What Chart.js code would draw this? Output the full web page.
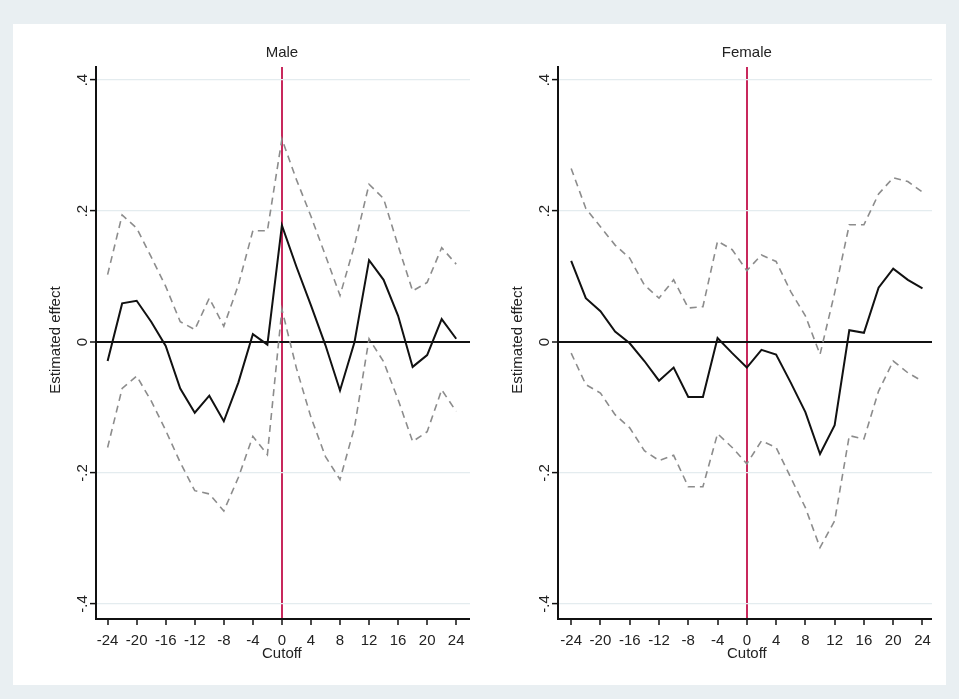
<!DOCTYPE html>
<html>
<head>
<meta charset="utf-8">
<script src="https://cdn.jsdelivr.net/npm/chart.js@4.4.1/dist/chart.umd.min.js"></script>
<style>
  body { margin: 0; background: #e9eff2; width: 959px; height: 699px; overflow: hidden; }
  #frame { position: absolute; left: 13px; top: 24px; width: 933px; height: 661px; background: #fff; }
  .box { position: absolute; top: 24px; height: 661px; }
</style>
</head>
<body>
<div id="frame"></div>
<div class="box" style="left:13px;width:470px"><canvas id="maleChart"></canvas></div>
<div class="box" style="left:483px;width:463px"><canvas id="femaleChart"></canvas></div>
<script>
const cutoffs = [-24, -22, -20, -18, -16, -14, -12, -10, -8, -6, -4, -2, 0, 2, 4, 6, 8, 10, 12, 14, 16, 18, 20, 22, 24];

const maleEst = [-0.029, 0.059, 0.063, 0.031, -0.006, -0.071, -0.108, -0.082, -0.121, -0.062, 0.012, -0.004, 0.178, 0.115, 0.056, -0.005, -0.074, 0.0, 0.125, 0.095, 0.04, -0.038, -0.02, 0.035, 0.005];
const maleUpper = [0.103, 0.194, 0.174, 0.13, 0.085, 0.031, 0.019, 0.067, 0.024, 0.087, 0.17, 0.17, 0.31, 0.248, 0.192, 0.132, 0.071, 0.148, 0.241, 0.219, 0.147, 0.078, 0.091, 0.144, 0.119];
const maleLower = [-0.161, -0.071, -0.052, -0.09, -0.135, -0.184, -0.227, -0.232, -0.258, -0.207, -0.144, -0.172, 0.05, -0.04, -0.115, -0.175, -0.21, -0.13, 0.005, -0.03, -0.088, -0.152, -0.137, -0.073, -0.106];

const femaleEst = [0.124, 0.067, 0.047, 0.016, -0.002, -0.029, -0.059, -0.039, -0.084, -0.084, 0.006, -0.017, -0.039, -0.012, -0.019, -0.062, -0.107, -0.171, -0.127, 0.018, 0.014, 0.083, 0.112, 0.095, 0.082];
const femaleUpper = [0.265, 0.204, 0.176, 0.148, 0.128, 0.087, 0.067, 0.095, 0.052, 0.054, 0.154, 0.141, 0.109, 0.133, 0.123, 0.077, 0.04, -0.019, 0.075, 0.179, 0.179, 0.226, 0.251, 0.245, 0.229];
const femaleLower = [-0.017, -0.065, -0.078, -0.111, -0.131, -0.166, -0.181, -0.173, -0.221, -0.221, -0.14, -0.161, -0.186, -0.151, -0.161, -0.207, -0.253, -0.314, -0.273, -0.143, -0.148, -0.075, -0.029, -0.047, -0.06];

const yTicks = [-0.4, -0.2, 0, 0.2, 0.4];
const yTickLabels = ['-.4', '-.2', '0', '.2', '.4'];
const xTicks = [-24, -20, -16, -12, -8, -4, 0, 4, 8, 12, 16, 20, 24];

const FONT = '"Liberation Sans", Arial, sans-serif';

function pairs(ys) {
  return cutoffs.map((c, i) => ({ x: c, y: ys[i] }));
}

// draws the panel title, rotated y labels and the axis titles
const textPlugin = {
  id: 'stataText',
  afterDraw(chart, args, opts) {
    const ctx = chart.ctx;
    const area = chart.chartArea;
    const y = chart.scales.y;
    const xMid = chart.scales.x.getPixelForValue(0);
    ctx.save();
    ctx.fillStyle = '#222';
    ctx.font = '15px ' + FONT;
    ctx.textAlign = 'center';
    ctx.textBaseline = 'middle';
    ctx.fillText(opts.title, xMid, 29);
    ctx.fillText('Cutoff', xMid, area.bottom + 35);

    yTicks.forEach((v, i) => {
      ctx.save();
      ctx.translate(area.left - 9, y.getPixelForValue(v));
      ctx.rotate(-Math.PI / 2);
      ctx.textBaseline = 'alphabetic';
      ctx.fillText(yTickLabels[i], 0, 0);
      ctx.restore();
    });

    ctx.save();
    ctx.translate(area.left - 36, y.getPixelForValue(0) - 2);
    ctx.rotate(-Math.PI / 2);
    ctx.textBaseline = 'alphabetic';
    ctx.fillText('Estimated effect', 0, 0);
    ctx.restore();
    ctx.restore();
  }
};

function makeChart(id, title, est, upper, lower, padLeft, padRight, xMin, xMax) {
  const dashed = {
    borderColor: '#8c8c8c',
    borderWidth: 1.6,
    borderDash: [7, 5],
    pointRadius: 0,
    tension: 0,
    fill: false
  };
  new Chart(document.getElementById(id), {
    type: 'line',
    data: {
      datasets: [
        Object.assign({ label: 'Upper', data: pairs(upper) }, dashed),
        Object.assign({ label: 'Lower', data: pairs(lower) }, dashed),
        {
          label: 'Estimated effect',
          data: pairs(est),
          borderColor: '#111',
          borderWidth: 2,
          pointRadius: 0,
          tension: 0,
          fill: false
        }
      ]
    },
    options: {
      responsive: true,
      maintainAspectRatio: false,
      animation: false,
      layout: { padding: { left: padLeft, right: padRight, top: 43, bottom: 22 } },
      plugins: {
        legend: { display: false },
        tooltip: { enabled: false },
        stataText: { title: title }
      },
      scales: {
        x: {
          type: 'linear',
          min: xMin,
          max: xMax,
          afterBuildTicks: s => { s.ticks = xTicks.map(v => ({ value: v })); },
          afterFit: s => { s.height = 44; },
          border: { color: '#111', width: 2 },
          grid: {
            color: c => (c.tick && c.tick.value === 0 ? '#c8285c' : 'rgba(0,0,0,0)'),
            lineWidth: c => (c.tick && c.tick.value === 0 ? 2 : 0),
            tickColor: '#111',
            tickWidth: 1.5,
            tickLength: 6
          },
          ticks: {
            color: '#222',
            font: { size: 15, family: FONT },
            padding: 7,
            maxRotation: 0,
            autoSkip: false
          }
        },
        y: {
          min: -0.423,
          max: 0.42,
          afterBuildTicks: s => { s.ticks = yTicks.map(v => ({ value: v })); },
          afterFit: s => { s.width = 60; },
          border: { color: '#111', width: 2 },
          grid: {
            color: c => (c.tick && c.tick.value === 0 ? '#111' : '#e4ecef'),
            lineWidth: c => (c.tick && c.tick.value === 0 ? 2 : 1.2),
            tickColor: '#111',
            tickWidth: 1.5,
            tickLength: 6
          },
          ticks: { display: false }
        }
      }
    },
    plugins: [textPlugin]
  });
}

makeChart('maleChart', 'Male', maleEst, maleUpper, maleLower, 23, 13, -25.6, 25.9);
makeChart('femaleChart', 'Female', femaleEst, femaleUpper, femaleLower, 15, 14, -25.8, 25.3);
</script>
</body>
</html>
